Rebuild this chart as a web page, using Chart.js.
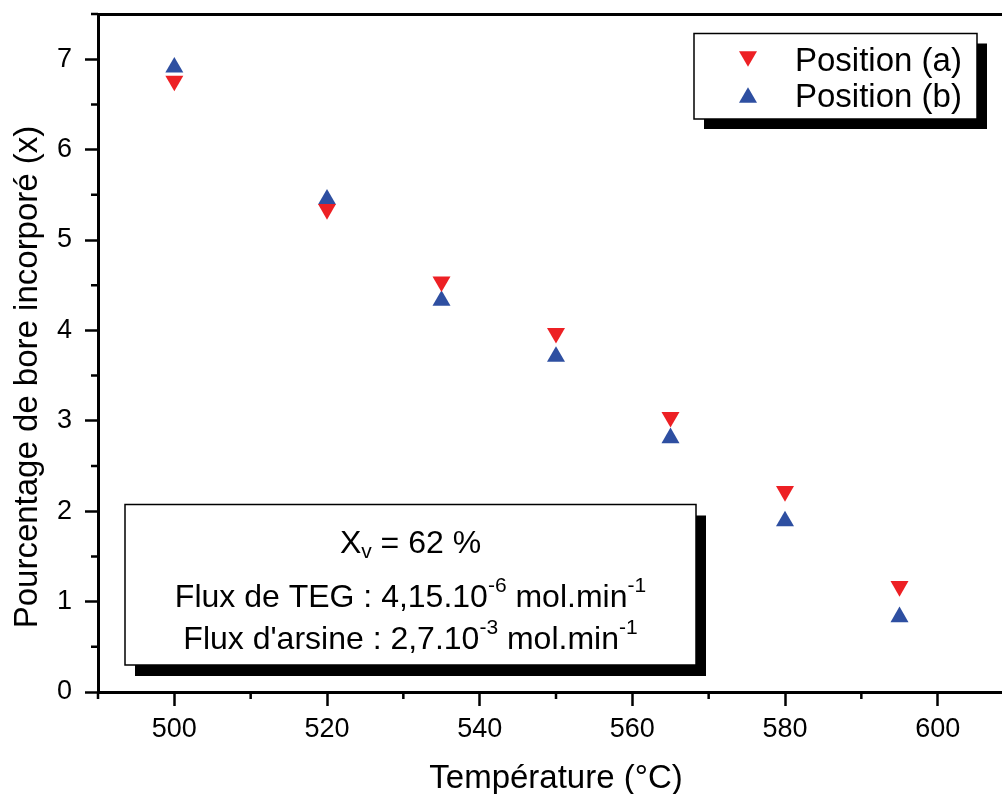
<!DOCTYPE html>
<html>
<head>
<meta charset="utf-8">
<script src="https://cdn.jsdelivr.net/npm/chart.js@4.4.0/dist/chart.umd.min.js"></script>
<style>
  html, body { margin: 0; padding: 0; background: #fff; overflow: hidden; }
  #wrap { width: 1030px; height: 794px; position: relative; }
</style>
</head>
<body>
<div id="wrap"><canvas id="boreChart"></canvas></div>
<script>
// growth temperature (°C) and boron content (x) for the two wafer positions
const temperatures = [500, 520, 535, 550, 565, 580, 595]
const positionA = [6.76, 5.34, 4.54, 3.97, 3.04, 2.22, 1.17]
const positionB = [6.91, 5.45, 4.33, 3.71, 2.81, 1.89, 0.83]

const seriesLabels = ['Position (a)', 'Position (b)']

const xMajorTicks = [500, 520, 540, 560, 580, 600]
const xMinorTicks = [490, 510, 530, 550, 570, 590, 610]
const yMajorTicks = [0, 1, 2, 3, 4, 5, 6, 7]
const yMinorTicks = [0.5, 1.5, 2.5, 3.5, 4.5, 5.5, 6.5, 7.5]

const xTitle = 'Température (°C)'
const yTitle = 'Pourcentage de bore incorporé (x)'

// growth conditions, split in runs so the exponents can be raised
const noteLines = [
  [['X'], ['v', 'sub'], [' = 62 %']],
  [['Flux de TEG : 4,15.10'], ['-6', 'sup'], [' mol.min'], ['-1', 'sup']],
  [["Flux d'arsine : 2,7.10"], ['-3', 'sup'], [' mol.min'], ['-1', 'sup']]
]

const FONT = "'Liberation Sans', Arial, sans-serif"
const RED = '#ED2024'
const BLUE = '#2E4FA1'
const MARKER = 10.4

Chart.defaults.font.family = FONT
Chart.defaults.color = '#000'

function toPoints(values) {
  return temperatures.map((t, i) => ({ x: t, y: values[i] }))
}

function triangle(ctx, x, y, r, down) {
  const s = down ? -1 : 1
  ctx.beginPath()
  ctx.moveTo(x, y - s * r)
  ctx.lineTo(x + r * Math.sin(2 * Math.PI / 3), y + s * r / 2)
  ctx.lineTo(x - r * Math.sin(2 * Math.PI / 3), y + s * r / 2)
  ctx.closePath()
  ctx.fill()
}

function drawRichLine(ctx, parts, cx, baseline) {
  const fontFor = kind => kind ? `21px ${FONT}` : `32px ${FONT}`
  const widths = parts.map(([text, kind]) => {
    ctx.font = fontFor(kind)
    return ctx.measureText(text).width
  })
  let x = cx - widths.reduce((a, b) => a + b, 0) / 2
  parts.forEach(([text, kind], i) => {
    ctx.font = fontFor(kind)
    const dy = kind === 'sub' ? 5 : kind === 'sup' ? -15 : 0
    ctx.fillText(text, x, baseline + dy)
    x += widths[i]
  })
}

// minor ticks, rotated y title, legend box and the conditions box
const frame = {
  id: 'frame',
  afterDraw(chart) {
    const ctx = chart.ctx
    const area = chart.chartArea
    const xs = chart.scales.x
    const ys = chart.scales.y

    ctx.save()
    ctx.strokeStyle = '#000'
    ctx.lineWidth = 2.5
    ctx.beginPath()
    xMinorTicks.forEach(v => {
      const px = xs.getPixelForValue(v)
      ctx.moveTo(px, area.bottom)
      ctx.lineTo(px, area.bottom + 7)
    })
    yMinorTicks.forEach(v => {
      const py = ys.getPixelForValue(v)
      ctx.moveTo(area.left, py)
      ctx.lineTo(area.left - 7, py)
    })
    ctx.stroke()

    // y title
    ctx.save()
    ctx.translate(37, 377)
    ctx.rotate(-Math.PI / 2)
    ctx.font = `33px ${FONT}`
    ctx.fillStyle = '#000'
    ctx.textAlign = 'center'
    ctx.textBaseline = 'alphabetic'
    ctx.fillText(yTitle, 0, 0)
    ctx.restore()

    // legend
    const lx = 694, ly = 33.5, lw = 283, lh = 85.5
    ctx.fillStyle = '#000'
    ctx.fillRect(lx + 10, ly + 10, lw, lh)
    ctx.fillStyle = '#fff'
    ctx.fillRect(lx, ly, lw, lh)
    ctx.lineWidth = 1.5
    ctx.strokeRect(lx, ly, lw, lh)
    chart.data.datasets.forEach((ds, i) => {
      const rowY = 59 + i * 36
      const down = ds.pointRotation === 180
      ctx.fillStyle = ds.pointBackgroundColor
      triangle(ctx, 748, rowY + (down ? -MARKER / 4 : MARKER / 4), MARKER, down)
      ctx.fillStyle = '#000'
      ctx.font = `33px ${FONT}`
      ctx.textAlign = 'left'
      ctx.textBaseline = 'alphabetic'
      ctx.fillText(ds.label, 795, rowY + 11.5)
    })

    // growth conditions
    const bx = 125, by = 504.5, bw = 571, bh = 160.5
    ctx.fillStyle = '#000'
    ctx.fillRect(bx + 10, by + 11, bw, bh)
    ctx.fillStyle = '#fff'
    ctx.fillRect(bx, by, bw, bh)
    ctx.lineWidth = 1.5
    ctx.strokeRect(bx, by, bw, bh)
    ctx.fillStyle = '#000'
    ctx.textAlign = 'left'
    const baselines = [553, 607, 649]
    noteLines.forEach((parts, i) => drawRichLine(ctx, parts, bx + bw / 2, baselines[i]))

    ctx.restore()
  }
}

const axisGrid = {
  drawOnChartArea: false,
  drawTicks: true,
  tickColor: '#000',
  tickWidth: 2.5
}

// no extra room for overhanging tick labels, the plot box is fixed
function noOverhang(s) {
  s.paddingTop = 0
  s.paddingBottom = 0
  s.paddingLeft = 0
  s.paddingRight = 0
}

new Chart(document.getElementById('boreChart'), {
  type: 'scatter',
  data: {
    datasets: [
      {
        label: seriesLabels[0],
        data: toPoints(positionA),
        pointStyle: 'triangle',
        pointRotation: 180,
        pointRadius: MARKER,
        pointBorderWidth: 0,
        pointBackgroundColor: RED,
        backgroundColor: RED
      },
      {
        label: seriesLabels[1],
        data: toPoints(positionB),
        pointStyle: 'triangle',
        pointRotation: 0,
        pointRadius: MARKER,
        pointBorderWidth: 0,
        pointBackgroundColor: BLUE,
        backgroundColor: BLUE
      }
    ]
  },
  options: {
    responsive: true,
    maintainAspectRatio: false,
    animation: false,
    layout: { padding: { top: 14, left: 0, right: 16, bottom: 0 } },
    scales: {
      x: {
        type: 'linear',
        position: 'bottom',
        min: 490,
        max: 610,
        afterBuildTicks: s => { s.ticks = xMajorTicks.map(v => ({ value: v })) },
        afterFit: s => { s.height = 102; noOverhang(s) },
        grid: { ...axisGrid, tickLength: 14 },
        border: { color: '#000', width: 3 },
        ticks: { font: { size: 27 }, padding: 7, maxRotation: 0, autoSkip: false },
        title: {
          display: true,
          text: xTitle,
          font: { size: 33, lineHeight: 1 },
          padding: { top: 0, bottom: -1 }
        }
      },
      xTop: {
        type: 'linear',
        position: 'top',
        min: 490,
        max: 610,
        afterFit: s => { s.height = 0; noOverhang(s) },
        grid: { drawOnChartArea: false, drawTicks: false },
        border: { color: '#000', width: 3 },
        ticks: { display: false }
      },
      y: {
        type: 'linear',
        min: 0,
        max: 7.5,
        afterBuildTicks: s => { s.ticks = yMajorTicks.map(v => ({ value: v })) },
        afterFit: s => { s.width = 98; noOverhang(s) },
        grid: { ...axisGrid, tickLength: 13 },
        border: { color: '#000', width: 3 },
        ticks: { font: { size: 27 }, padding: 13 }
      }
    },
    plugins: {
      legend: { display: false },
      tooltip: { enabled: false }
    }
  },
  plugins: [frame]
})
</script>
</body>
</html>
